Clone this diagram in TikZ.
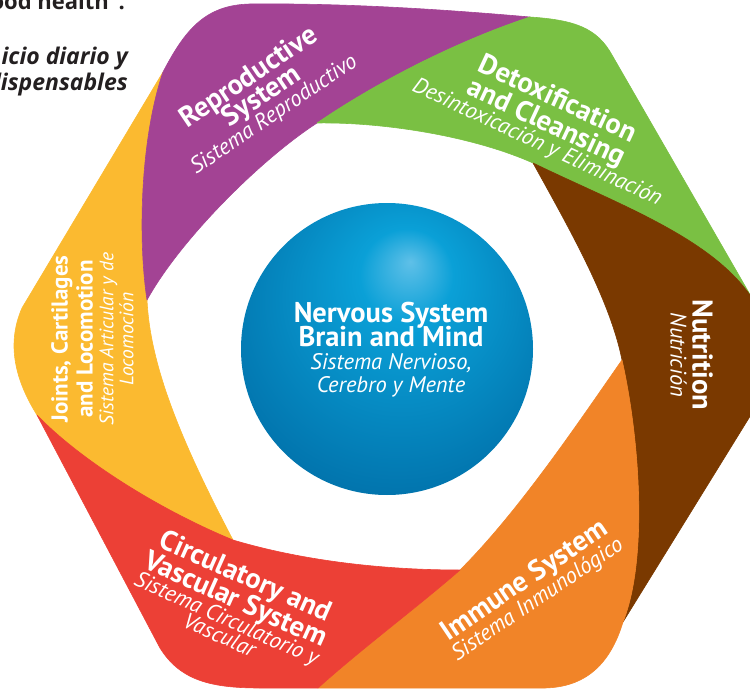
\documentclass[tikz,border=0pt]{standalone}
\usepackage{fontspec}
\setmainfont{PT Sans}
\newfontfamily\notefont{Open Sans}
\definecolor{cPur}{RGB}{163,67,148}
\definecolor{cGrn}{RGB}{122,192,67}
\definecolor{cBrn}{RGB}{122,57,0}
\definecolor{cOrg}{RGB}{241,132,40}
\definecolor{cRed}{RGB}{236,64,54}
\definecolor{cYel}{RGB}{251,186,48}
\definecolor{cTxt}{RGB}{35,31,32}
\definecolor{sphA}{RGB}{95,192,232}
\definecolor{sphB}{RGB}{10,160,215}
\definecolor{sphC}{RGB}{2,118,175}
\definecolor{sphD}{RGB}{6,84,128}
\pgfdeclareradialshading{sphereshade}{\pgfpoint{4bp}{15bp}}{color(0bp)=(sphA); color(8bp)=(sphB); color(30bp)=(sphC); color(50bp)=(sphD)}
\tikzset{
  seg/.style={fill=#1, draw=#1, line width=0.6pt, line join=round},
  ttl/.style={text=white, anchor=base, inner sep=0pt, font=\bfseries\fontsize{28.5}{30}\selectfont},
  sub/.style={text=white, anchor=base, inner sep=0pt, font=\itshape\fontsize{22.5}{24}\selectfont},
  ttlsmall/.style={text=white, anchor=base, inner sep=0pt, font=\bfseries\fontsize{23}{25}\selectfont},
  subsmall/.style={text=white, anchor=base, inner sep=0pt, font=\itshape\fontsize{19.5}{21}\selectfont},
  note/.style={text=cTxt, anchor=base east, inner sep=0pt},
}
\begin{document}
\begin{tikzpicture}[x=1pt,y=-1pt]
\useasboundingbox (0,0) rectangle (750,690);
\clip (0,0) rectangle (750,690);
% junction points
\coordinate (Oyp) at (163,72);
\coordinate (Iyp) at (147,300);
\coordinate (Opg) at (530,17);
\coordinate (Ipg) at (317,123);
\coordinate (Ogb) at (752,298);
\coordinate (Igb) at (533,163);
\coordinate (Obo) at (623,622);
\coordinate (Ibo) at (622,360);
\coordinate (Oor) at (318,688);
\coordinate (Ior) at (460,570);
\coordinate (Ory) at (37,415);
\coordinate (Iry) at (233,540);
% yellow
\path[seg=cYel] (Ory) .. controls (12,375) and (8,340) .. (22,308) -- (Oyp)
  .. controls (140,140) and (138,240) .. (Iyp)
  .. controls (150,360) and (175,430) .. (Iry)
  .. controls (160,510) and (80,460) .. (Ory) -- cycle;
% purple
\path[seg=cPur] (Oyp) .. controls (185,30) and (205,5) .. (250,4)
  .. controls (350,3) and (450,10) .. (Opg)
  .. controls (460,40) and (380,80) .. (Ipg)
  .. controls (260,160) and (180,240) .. (Iyp)
  .. controls (138,240) and (140,140) .. (Oyp) -- cycle;
% green
\path[seg=cGrn] (Opg) .. controls (575,20) and (597,28) .. (612,55) -- (Ogb)
  .. controls (712,238) and (620,205) .. (Igb)
  .. controls (470,135) and (380,122) .. (Ipg)
  .. controls (380,80) and (460,40) .. (Opg) -- cycle;
% brown
\path[seg=cBrn] (Igb) .. controls (570,230) and (610,300) .. (Ibo)
  .. controls (640,440) and (648,560) .. (Obo) -- (757,405) -- (758,300) -- (Ogb)
  .. controls (712,238) and (620,205) .. (Igb) -- cycle;
% orange
\path[seg=cOrg] (Ibo) .. controls (580,420) and (520,510) .. (Ior)
  .. controls (420,605) and (360,650) .. (Oor) -- (545,688)
  .. controls (585,687) and (610,665) .. (Obo)
  .. controls (648,560) and (640,440) .. (Ibo) -- cycle;
% red
\path[seg=cRed] (Ior) .. controls (380,570) and (300,560) .. (Iry)
  .. controls (160,510) and (80,460) .. (Ory) -- (160,648)
  .. controls (180,680) and (210,688) .. (260,688) -- (Oor)
  .. controls (360,650) and (420,605) .. (Ior) -- cycle;
% sphere
\shade[shading=sphereshade] (387,349) circle[radius=146];
\coordinate (sph) at (391,349);
\begin{scope}[shift={(sph)}]
  \node[ttl] (nA) at (0,-26.6) {Nervous System};
  \node[ttl] (nB) at (0,-2.6) {Brain and Mind};
  \node[sub] (nC) at (0,20.4) {Sistema Nervioso,};
  \node[sub] (nD) at (0,43.4) {Cerebro y Mente};
\end{scope}
% purple label
\begin{scope}[shift={(260.6,95)}, rotate=34, transform shape]
  \node[ttl] (rA) at (0,-13.1) {Reproductive};
  \node[ttl] (rB) at (0,9.4) {System};
  \node[sub] (rC) at (0,29.9) {Sistema Reproductivo};
\end{scope}
% green label
\begin{scope}[shift={(547,121.6)}, rotate=-25, transform shape]
  \node[ttl] (gA) at (0,-16.6) {Detoxification};
  \node[ttl] (gB) at (0,9.4) {and Cleansing};
  \node[sub] (gC) at (0,29.4) {Desintoxicación y Eliminación};
\end{scope}
% brown label
\begin{scope}[shift={(690,355)}, rotate=-90, transform shape]
  \node[ttl] (bA) at (0,-2.6) {Nutrition};
  \node[sub] (bB) at (0,19.4) {Nutrición};
\end{scope}
% yellow label
\begin{scope}[shift={(93.5,339)}, rotate=90, transform shape]
  \node[ttlsmall] (yA) at (0,-25.9) {Joints, Cartilages};
  \node[ttlsmall] (yB) at (0,-0.9) {and Locomotion};
  \node[subsmall] (yC) at (0,19.9) {Sistema Articular y de};
  \node[subsmall] (yD) at (0,39.9) {Locomoción};
\end{scope}
% red label
\begin{scope}[shift={(233,605)}, rotate=-24, transform shape]
  \node[ttl] (cA) at (0,-22.6) {Circulatory and};
  \node[ttl] (cB) at (0,2.4) {Vascular System};
  \node[sub] (cC) at (0,22.4) {Sistema Circulatorio y};
  \node[sub] (cD) at (0,40.4) {Vascular};
\end{scope}
% orange label
\begin{scope}[shift={(530.3,589.1)}, rotate=34, transform shape]
  \node[ttl] (oA) at (0,-2.2) {Immune System};
  \node[sub] (oB) at (0,19.1) {Sistema Inmunológico};
\end{scope}
% cut-off page text
\node[note, font=\notefont\bfseries\fontsize{22}{24}\selectfont] (t1) at (125,9.5) {ood health”.};
\node[note, font=\notefont\bfseries\itshape\fontsize{23}{24}\selectfont] (t2) at (128,65) {icio diario y};
\node[note, font=\notefont\bfseries\itshape\fontsize{23}{24}\selectfont] (t3) at (128,91) {dispensables};
\end{tikzpicture}
\end{document}
